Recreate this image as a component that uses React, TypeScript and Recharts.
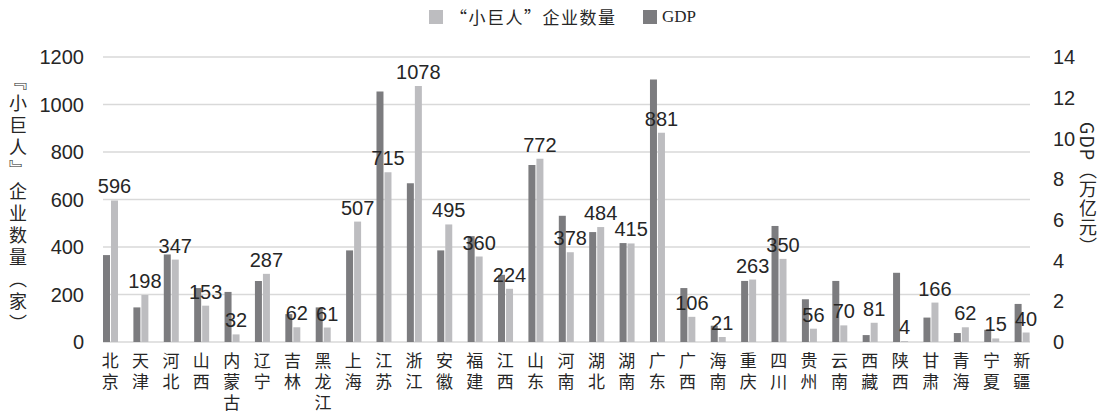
import React from 'react';
import { BarChart, Bar, XAxis, YAxis, CartesianGrid, LabelList } from 'recharts';

const provinces = ['北京','天津','河北','山西','内蒙古','辽宁','吉林','黑龙江','上海','江苏','浙江','安徽','福建','江西','山东','河南','湖北','湖南','广东','广西','海南','重庆','四川','贵州','云南','西藏','陕西','甘肃','青海','宁夏','新疆'];
const giantCounts = [596,198,347,153,32,287,62,61,507,715,1078,495,360,224,772,378,484,415,881,106,21,263,350,56,70,81,4,166,62,15,40];
const gdpValues = [4.27,1.7,4.3,2.65,2.46,3.0,1.37,1.7,4.5,12.3,7.8,4.5,5.2,3.3,8.7,6.2,5.4,4.86,12.9,2.65,0.8,3.0,5.7,2.1,3.0,0.34,3.4,1.2,0.44,0.6,1.87];
const leftTicks = [0,200,400,600,800,1000,1200];
const rightTicks = [0,2,4,6,8,10,12,14];

const data = provinces.map((p, i) => ({ name: p, count: giantCounts[i], gdp: gdpValues[i] }));

const DARK = '#7c7c7f';
const LIGHT = '#bdbdc0';
const TEXT = '#262626';
const NUM_FONT = '"Liberation Sans", Arial, sans-serif';
const CJK_FONT = '"Noto Sans CJK SC", "Noto Sans", sans-serif';

const CategoryTick = (props: any) => {
  const { x, y, payload } = props;
  return (
    <text
      x={x}
      y={y + 10}
      fill={TEXT}
      fontSize={17}
      fontFamily={CJK_FONT}
      style={{ writingMode: 'vertical-rl', letterSpacing: 4 } as any}
    >
      {String(payload.value)}
    </text>
  );
};

export default function App() {
  return (
    <div style={{ position: 'absolute', left: 0, top: 0, width: 1099, height: 420, background: '#fff' }}>
      <div style={{ position: 'absolute', left: 429, top: 10, width: 14, height: 14, background: LIGHT }} />
      <div style={{ position: 'absolute', left: 450, top: 5, fontSize: 17, letterSpacing: 1.5, lineHeight: '24px', fontFamily: CJK_FONT, color: TEXT, whiteSpace: 'nowrap' }}>“小巨人”企业数量</div>
      <div style={{ position: 'absolute', left: 643, top: 10, width: 14, height: 14, background: DARK }} />
      <div style={{ position: 'absolute', left: 662, top: 5, fontSize: 17, lineHeight: '24px', fontFamily: '"Liberation Serif", "DejaVu Serif", serif', color: TEXT, whiteSpace: 'nowrap' }}>GDP</div>
      <div style={{ position: 'absolute', left: 8, top: 72, fontSize: 18, letterSpacing: 4, writingMode: 'vertical-rl', fontFamily: CJK_FONT, color: TEXT, lineHeight: '20px' }}>『小巨人』企业数量（家）</div>
      <div style={{ position: 'absolute', left: 1078, top: 122, fontSize: 18, letterSpacing: 1, writingMode: 'vertical-rl', fontFamily: CJK_FONT, color: TEXT, lineHeight: '20px' }}>GDP（万亿元）</div>
      <BarChart
        width={1099}
        height={420}
        data={data}
        margin={{ top: 57, right: 0, bottom: 0, left: 0 }}
        barGap={1}
        barSize={7}
        style={{ position: 'absolute', left: 0, top: 0 }}
      >
        <CartesianGrid yAxisId="left" vertical={false} stroke="#d9d9d9" strokeWidth={1.5} x={103} width={927} />
        <XAxis
          dataKey="name"
          interval={0}
          height={78}
          axisLine={false}
          tickLine={false}
          tickSize={0}
          tickMargin={0}
          tick={<CategoryTick />}
        />
        <YAxis
          yAxisId="left"
          orientation="left"
          width={95}
          domain={[0, 1200]}
          ticks={leftTicks}
          axisLine={false}
          tickLine={false}
          tickMargin={5}
          tick={{ fill: TEXT, fontSize: 20, fontFamily: NUM_FONT }}
        />
        <YAxis
          yAxisId="right"
          orientation="right"
          width={62}
          domain={[0, 14]}
          ticks={rightTicks}
          axisLine={false}
          tickLine={false}
          tickMargin={10}
          tick={{ fill: TEXT, fontSize: 20, fontFamily: NUM_FONT, textAnchor: 'start' }}
        />
        <Bar yAxisId="right" dataKey="gdp" fill={DARK} isAnimationActive={false} />
        <Bar yAxisId="left" dataKey="count" fill={LIGHT} isAnimationActive={false}>
          <LabelList dataKey="count" position="top" offset={7} fill={TEXT} fontSize={20} fontFamily={NUM_FONT} />
        </Bar>
      </BarChart>
    </div>
  );
}
